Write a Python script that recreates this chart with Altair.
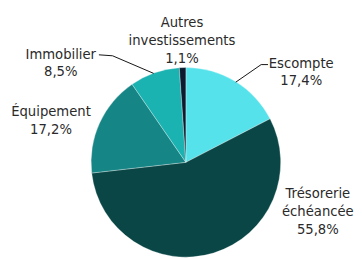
import altair as alt
import pandas as pd

# ---- data ----
categories = ["Escompte", "Trésorerie échéancée", "Équipement", "Immobilier", "Autres investissements"]
shares = [17.4, 55.8, 17.2, 8.5, 1.1]
share_text = ["17,4%", "55,8%", "17,2%", "8,5%", "1,1%"]
label_names = ["Escompte", "Trésorerie\néchéancée", "Équipement", "Immobilier", "Autres\ninvestissements"]
colors = ["#55e2ea", "#0a4646", "#158585", "#1bb2b2", "#0c1c30"]

# ---- layout (chart pixel coords) ----
PIE_CX, PIE_CY, PIE_R = 182, 155, 97
label_x = [300, 317, 44, 54, 178]
label_y = [54, 188, 104, 45, 13]
leader_id = ["Immobilier", "Immobilier", "Immobilier", "Escompte", "Escompte", "Escompte"]
leader_x = [93, 107, 149, 233, 259, 266]
leader_y = [45, 46, 64, 73, 55, 55]

W, H = 354, 251

pie_df = pd.DataFrame({"cat": categories, "share": shares, "idx": list(range(len(categories)))})
lab_df = pd.DataFrame({
    "label": [n + "\n" + s for n, s in zip(label_names, share_text)],
    "lx": label_x, "ly": label_y,
})
lead_df = pd.DataFrame({"g": leader_id, "x": leader_x, "y": leader_y, "o": list(range(len(leader_x)))})

pie = alt.Chart(pie_df).mark_arc(outerRadius=PIE_R, stroke="#ffffff", strokeWidth=0.6, strokeOpacity=0.5).encode(
    theta=alt.Theta("share:Q", stack=True),
    order=alt.Order("idx:Q"),
    color=alt.Color("cat:N", scale=alt.Scale(domain=categories, range=colors), legend=None),
    x=alt.value(PIE_CX),
    y=alt.value(PIE_CY),
)

leaders = alt.Chart(lead_df).mark_line(color="#111111", strokeWidth=1).encode(
    x=alt.X("x:Q", scale=None),
    y=alt.Y("y:Q", scale=None),
    detail="g:N",
    order="o:Q",
)

labels = alt.Chart(lab_df).mark_text(
    font="DejaVu Sans", fontSize=13.5, color="#2a2a2a", lineBreak="\n",
    lineHeight=18, align="center", baseline="middle",
).encode(
    x=alt.X("lx:Q", scale=None),
    y=alt.Y("ly:Q", scale=None),
    text="label:N",
)

chart = alt.layer(pie, leaders, labels).properties(
    width=W, height=H, autosize=alt.AutoSizeParams(type="none"), padding=0,
    background="#ffffff",
).configure_view(stroke=None)

chart.save("out.html", embed_options={"renderer": "svg", "actions": False})
